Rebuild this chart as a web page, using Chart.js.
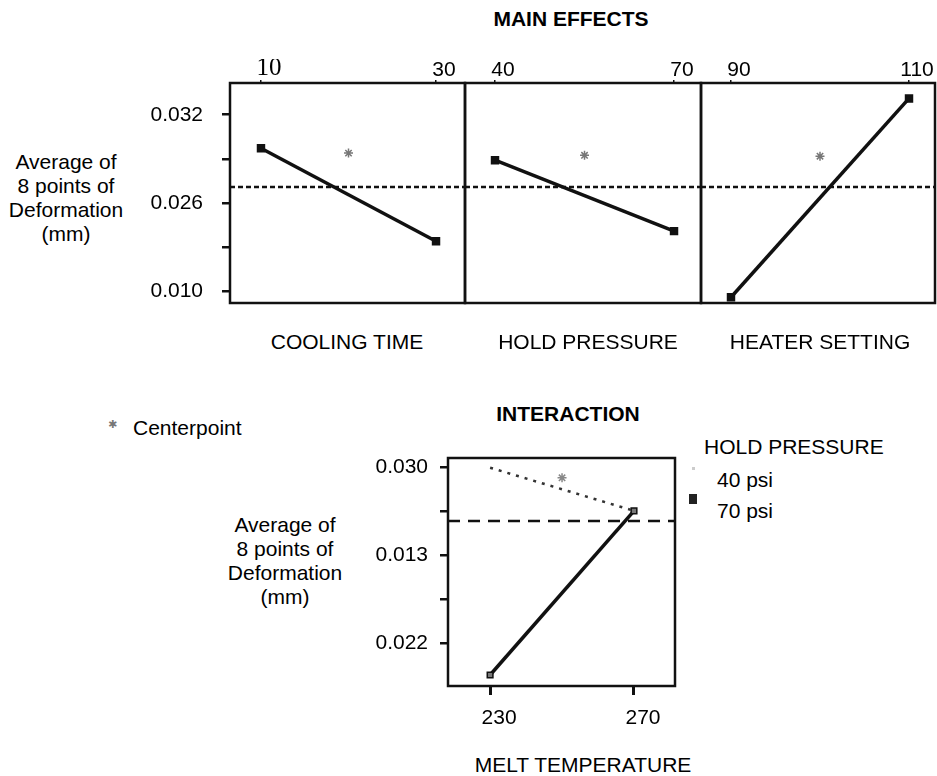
<!DOCTYPE html>
<html>
<head>
<meta charset="utf-8">
<title>Main effects and interaction</title>
<script src="https://cdn.jsdelivr.net/npm/chart.js@4.4.1/dist/chart.umd.min.js"></script>
<style>
  body { margin: 0; background: #fff; width: 937px; height: 776px; position: relative; overflow: hidden;
         font-family: "Liberation Sans", Arial, sans-serif; color: #000; }
  .box { position: absolute; }
  .txt { position: absolute; font-size: 21px; line-height: 24px; white-space: nowrap; }
  .head { font-weight: bold; }
  .c { transform: translate(-50%, -50%); text-align: center; }
  .l { transform: translateY(-50%); }
</style>
</head>
<body>
<div class="txt head c" style="left:571px;top:19px">MAIN EFFECTS</div>
<div class="txt c" style="left:66px;top:198px">Average of<br>8 points of<br>Deformation<br>(mm)</div>

<div class="box" style="left:130px;top:59px;width:337px;height:246px"><canvas id="p0"></canvas></div>
<div class="box" style="left:463px;top:59px;width:240px;height:246px"><canvas id="p1"></canvas></div>
<div class="box" style="left:699px;top:59px;width:238px;height:246px"><canvas id="p2"></canvas></div>
<div id="factorLabels"></div>

<div class="txt l" style="left:108px;top:425px;font-family:'DejaVu Sans';font-size:11px;color:#777">&#10033;</div>
<div class="txt l" style="left:133px;top:428px">Centerpoint</div>

<div class="txt head c" style="left:568px;top:414px">INTERACTION</div>
<div class="txt c" style="left:285px;top:561px">Average of<br>8 points of<br>Deformation<br>(mm)</div>
<div class="box" style="left:340px;top:456px;width:337px;height:290px"><canvas id="inter"></canvas></div>
<div class="txt c" style="left:583px;top:765px">MELT TEMPERATURE</div>

<div class="txt l" style="left:704px;top:447px">HOLD PRESSURE</div>
<div class="box" style="left:692px;top:467px;width:3px;height:3px;background:#ccc"></div>
<div class="txt l" style="left:717px;top:480px">40 psi</div>
<div class="box" style="left:689px;top:494px;width:8px;height:10px;background:#222"></div>
<div class="txt l" style="left:717px;top:511px">70 psi</div>

<script>
// ---- data (y values are read in tick steps of the printed axis) ----
const mainTickPos = [0, 1, 2, 3, 4];
const mainTickLabels = ['0.010', '', '0.026', '', '0.032'];
const factorNames = ['COOLING TIME', 'HOLD PRESSURE', 'HEATER SETTING'];
const factorLevels = [[10, 30], [40, 70], [90, 110]];
const factorMeans = [[3.24, 1.13], [2.97, 1.36], [-0.14, 4.37]];
const centerLevels = [20, 55, 100];
const centerMeans = [3.13, 3.08, 3.06];
const grandMean = 2.36;

const interTickPos = [0, 1, 2, 3, 4];
const interTickLabels = ['0.022', '', '0.013', '', '0.030'];
const meltLevels = [230, 270];
const psi40 = [3.98, 3.0];
const psi70 = [-0.73, 3.0];
const interCenter = { x: 250, y: 3.75 };
const interMean = 2.77;

// ---- axis ranges ----
const mainX = [[6.46, 33.31], [34.97, 74.52], [86.63, 112.92]];
const mainY = [-0.27, 4.72];
const interX = [218.3, 281.4];
const interY = [-0.98, 4.2];

Chart.defaults.font.family = '"Liberation Sans", Arial, sans-serif';
Chart.defaults.color = '#000';

// draws the box round the plot area
const frame = {
  id: 'frame',
  afterDatasetsDraw(chart) {
    const { ctx, chartArea: a } = chart;
    ctx.save();
    ctx.lineWidth = 2.5;
    ctx.strokeStyle = '#111';
    ctx.strokeRect(a.left, a.top, a.right - a.left, a.bottom - a.top);
    ctx.restore();
  }
};

// fixed axis sizes so that the separate canvases line up
function fixSize(prop, size) {
  return s => {
    s[prop] = size;
    s.paddingTop = s.paddingBottom = s.paddingLeft = s.paddingRight = 0;
  };
}

function mainPanel(i) {
  const first = i === 0;
  return new Chart(document.getElementById('p' + i), {
    type: 'scatter',
    data: {
      datasets: [
        {
          label: factorNames[i],
          data: factorLevels[i].map((x, k) => ({ x: x, y: factorMeans[i][k] })),
          showLine: true,
          borderColor: '#111',
          backgroundColor: '#111',
          borderWidth: 3.5,
          pointStyle: 'rect',
          pointRadius: 3.5
        },
        {
          label: 'Centerpoint',
          data: [{ x: centerLevels[i], y: centerMeans[i] }],
          pointStyle: 'star',
          pointRadius: 4.5,
          borderColor: '#777',
          borderWidth: 1.5
        },
        {
          label: 'Grand mean',
          data: mainX[i].map(x => ({ x: x, y: grandMean })),
          showLine: true,
          borderColor: '#111',
          borderWidth: 2.5,
          borderDash: [5, 3],
          pointRadius: 0
        }
      ]
    },
    options: {
      responsive: true,
      maintainAspectRatio: false,
      animation: false,
      layout: { autoPadding: false, padding: { left: first ? 0 : 2, right: 2, top: 0, bottom: 2 } },
      plugins: { legend: { display: false }, tooltip: { enabled: false } },
      scales: {
        x: {
          type: 'linear',
          position: 'top',
          min: mainX[i][0],
          max: mainX[i][1],
          afterBuildTicks: s => { s.ticks = factorLevels[i].map(v => ({ value: v })); },
          afterFit: fixSize('height', 24),
          border: { display: false },
          grid: { drawOnChartArea: false, tickLength: 3, tickColor: '#111', lineWidth: 1.5 },
          ticks: {
            padding: -1,
            labelOffset: 8,
            maxRotation: 0,
            font: c => (first && c.index === 0)
              ? { family: '"Liberation Serif", serif', size: 25, lineHeight: 1 }
              : { size: 21, lineHeight: 1 }
          }
        },
        y: {
          display: first,
          min: mainY[0],
          max: mainY[1],
          afterBuildTicks: s => { s.ticks = mainTickPos.map(v => ({ value: v })); },
          afterFit: fixSize('width', first ? 100 : 0),
          border: { display: false },
          grid: { drawOnChartArea: false, tickLength: 8, tickColor: '#111', lineWidth: 2.5 },
          ticks: { padding: 19, font: { size: 21, lineHeight: 1 }, callback: (v, k) => mainTickLabels[k] }
        }
      }
    },
    plugins: [frame]
  });
}

[0, 1, 2].forEach(mainPanel);

// factor names under the panels
const labelCenters = [347, 588, 820];
document.getElementById('factorLabels').innerHTML = factorNames.map((n, i) =>
  `<div class="txt c" style="left:${labelCenters[i]}px;top:342px">${n}</div>`).join('');

new Chart(document.getElementById('inter'), {
  type: 'scatter',
  data: {
    datasets: [
      {
        label: '40 psi',
        data: meltLevels.map((x, k) => ({ x: x, y: psi40[k] })),
        showLine: true,
        borderColor: '#333',
        borderWidth: 2.5,
        borderDash: [3, 6],
        pointRadius: 0
      },
      {
        label: '70 psi',
        data: meltLevels.map((x, k) => ({ x: x, y: psi70[k] })),
        showLine: true,
        borderColor: '#111',
        backgroundColor: '#777',
        borderWidth: 3.5,
        pointStyle: 'rect',
        pointRadius: 4,
        pointBorderWidth: 1.5
      },
      {
        label: 'Centerpoint',
        data: [interCenter],
        pointStyle: 'star',
        pointRadius: 4.5,
        borderColor: '#888',
        borderWidth: 1.5
      },
      {
        label: 'Grand mean',
        data: interX.map(x => ({ x: x, y: interMean })),
        showLine: true,
        borderColor: '#111',
        borderWidth: 2.5,
        borderDash: [12, 8],
        pointRadius: 0
      }
    ]
  },
  options: {
    responsive: true,
    maintainAspectRatio: false,
    animation: false,
    layout: { autoPadding: false, padding: { left: 0, right: 2, top: 2, bottom: 0 } },
    plugins: { legend: { display: false }, tooltip: { enabled: false } },
    scales: {
      x: {
        type: 'linear',
        position: 'bottom',
        min: interX[0],
        max: interX[1],
        afterBuildTicks: s => { s.ticks = meltLevels.map(v => ({ value: v })); },
        afterFit: fixSize('height', 60),
        border: { display: false },
        grid: { drawOnChartArea: false, tickLength: 9, tickColor: '#111', lineWidth: 3 },
        ticks: { padding: 13, labelOffset: 9, maxRotation: 0, font: { size: 21, lineHeight: 1 } }
      },
      y: {
        min: interY[0],
        max: interY[1],
        afterBuildTicks: s => { s.ticks = interTickPos.map(v => ({ value: v })); },
        afterFit: fixSize('width', 108),
        border: { display: false },
        grid: { drawOnChartArea: false, tickLength: 8, tickColor: '#111', lineWidth: 2.5 },
        ticks: { padding: 12, font: { size: 21, lineHeight: 1 }, callback: (v, k) => interTickLabels[k] }
      }
    }
  },
  plugins: [frame]
});
</script>
</body>
</html>
